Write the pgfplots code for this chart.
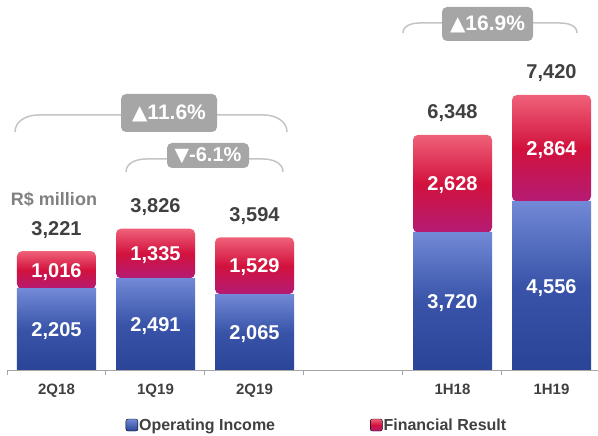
\documentclass[border=0pt]{standalone}
\usepackage{pgfplots}
\pgfplotsset{compat=1.18}
\usepackage{fontspec}
\setmainfont{Liberation Sans}
\newfontfamily\symfont{DejaVu Sans}
\definecolor{blueTop}{HTML}{7189D6}
\definecolor{blueMid}{HTML}{3853A8}
\definecolor{blueBot}{HTML}{2A4597}
\definecolor{redTop}{HTML}{EF6179}
\definecolor{redMid}{HTML}{D2123D}
\definecolor{redBot}{HTML}{B41B74}
\definecolor{boxgray}{HTML}{A6A6A6}
\definecolor{brgray}{HTML}{C4C4C4}
\definecolor{totgray}{HTML}{404040}
\definecolor{axgray}{HTML}{A6A6A6}
\definecolor{unitgray}{HTML}{808080}

\pgfplotsset{
  base/.style={
    scale only axis, width=594pt, height=371pt,
    xmin=-0.5, xmax=5.5, ymin=0, ymax=9973,
    at={(7pt,65pt)}, anchor=south west,
  },
  opinc/.style={draw=none, shading=axis, top color=blueTop, bottom color=blueBot, middle color=blueMid},
  finres/.style={draw=none, rounded corners=5pt, shading=axis, top color=redTop, bottom color=redBot, middle color=redMid},
}
% one stacked bar (category x, operating income, financial result)
\newcommand{\stackbar}[3]{%
\begin{axis}[base, hide axis, ybar stacked, bar width=79pt]
\addplot[opinc] coordinates {(#1,#2)};
\addplot[finres] coordinates {(#1,#3)};
\end{axis}}
\begin{document}
\begin{tikzpicture}
\useasboundingbox (0,0) rectangle (598pt,436pt);
\stackbar{0}{2205}{1016}
\stackbar{1}{2491}{1335}
\stackbar{2}{2065}{1529}
\stackbar{4}{3720}{2628}
\stackbar{5}{4556}{2864}
\begin{axis}[base,
  axis y line=none, axis x line*=bottom,
  axis line style={axgray, line width=1pt},
  xtick={0,1,2,4,5},
  xticklabels={2Q18,1Q19,2Q19,1H18,1H19},
  major tick length=0pt,
  minor xtick={-0.5,0.5,1.5,2.5,3.5,4.5,5.5},
  minor tick length=4pt,
  tick align=outside,
  minor tick style={axgray, line width=1pt},
  xticklabel style={font=\fontsize{15}{15}\selectfont\bfseries, text=totgray, anchor=base, yshift=-24pt},
  legend style={at={(0.521,-0.1456)}, anchor=center, draw=none, fill=none,
    legend columns=2, font=\fontsize{16}{16}\selectfont\bfseries, text=totgray,
    /tikz/every even column/.append style={column sep=94pt},
    nodes={inner xsep=1pt}},
]
\addlegendimage{legend image code/.code={\shade[top color=blueTop, bottom color=blueBot, rounded corners=2pt] (0pt,-6pt) rectangle (12pt,6pt);}}
\addlegendimage{legend image code/.code={\shade[top color=redTop, bottom color=redBot, middle color=redMid, rounded corners=2pt] (0pt,-6pt) rectangle (12pt,6pt);}}
\legend{Operating Income, Financial Result}
\end{axis}
\begin{axis}[base, hide axis, clip=false]
\addplot[draw=none, mark=none, nodes near coords, point meta=explicit symbolic,
  every node near coord/.style={anchor=base, text=white, inner sep=0pt, yshift=-7pt,
    font=\fontsize{20}{20}\selectfont\bfseries}]
  table[meta=l] {
x y l
0 1102.5 2,205
1 1245.5 2,491
2 1032.5 2,065
4 1860 3,720
5 2278 4,556
0 2713 1,016
1 3158.5 1,335
2 2829.5 1,529
4 5034 2,628
5 5988 2,864
};
\addplot[draw=none, mark=none, nodes near coords, point meta=explicit symbolic,
  every node near coord/.style={anchor=base, text=totgray, inner sep=0pt, yshift=16pt,
    font=\fontsize{20}{20}\selectfont\bfseries}]
  table[meta=l] {
x y l
0 3221 3,221
1 3826 3,826
2 3594 3,594
4 6348 6,348
5 7420 7,420
};
\end{axis}
% unit label
\node[text=unitgray, font=\fontsize{18}{18}\selectfont\bfseries] at (54pt,237pt) {R\$ million};
% brackets
\draw[brgray, line width=1.5pt] (15pt,304pt) to[out=90,in=180] (38pt,321pt) -- (264pt,321pt) to[out=0,in=90] (287pt,304pt);
\draw[brgray, line width=1.5pt] (126pt,264pt) to[out=90,in=180] (146pt,277pt) -- (263pt,277pt) to[out=0,in=90] (283pt,264pt);
\draw[brgray, line width=1.5pt] (403pt,403pt) to[out=90,in=180] (420pt,413pt) -- (560pt,413pt) to[out=0,in=90] (577pt,403pt);
% percentage boxes
\node[fill=boxgray, rounded corners=5pt, text=white, minimum width=96pt, minimum height=38pt, inner sep=0pt,
  font=\fontsize{21}{21}\selectfont\bfseries] at (169pt,323pt) {{\symfont\fontsize{20}{20}\selectfont ▲}11.6\%};
\node[fill=boxgray, rounded corners=5pt, text=white, minimum width=82pt, minimum height=25pt, inner sep=0pt,
  font=\fontsize{20}{20}\selectfont\bfseries] at (208pt,280.5pt) {{\symfont\fontsize{19}{19}\selectfont ▼}-6.1\%};
\node[fill=boxgray, rounded corners=5pt, text=white, minimum width=91pt, minimum height=34pt, inner sep=0pt,
  font=\fontsize{21}{21}\selectfont\bfseries] at (487.5pt,412pt) {{\symfont\fontsize{20}{20}\selectfont ▲}16.9\%};
\end{tikzpicture}
\end{document}
